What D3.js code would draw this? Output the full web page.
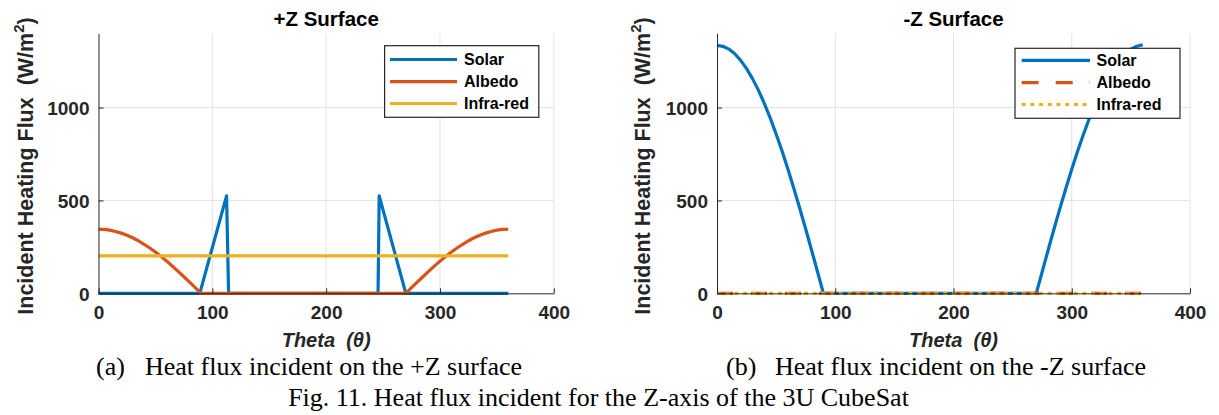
<!DOCTYPE html>
<html>
<head>
<meta charset="utf-8">
<script src="https://cdn.jsdelivr.net/npm/d3@7"></script>
<style>
  html, body { margin: 0; padding: 0; background: #fff; }
  svg { display: block; }
</style>
</head>
<body>
<svg id="chart" width="1219" height="415"></svg>
<script>
// ---------- DATA ----------
const xTicks = [0, 100, 200, 300, 400];
const yTicks = [0, 500, 1000];
const seriesNames = ["Solar", "Albedo", "Infra-red"];

// +Z surface
const solarPlusTheta = [0, 89, 112.5, 114.3, 245.6, 246.6, 270, 360];
const solarPlusVal   = [0, 0, 525, 0, 0, 525, 0, 0];
const albedoPlusTheta = [0, 5, 10, 15, 20, 25, 30, 35, 40, 45, 50, 55, 60, 65, 70, 75, 80, 85, 90,
                         270, 275, 280, 285, 290, 295, 300, 305, 310, 315, 320, 325, 330, 335, 340, 345, 350, 355, 360];
const albedoPlusVal   = [345, 344, 340, 333, 324, 313, 299, 283, 264, 244, 222, 198, 173, 146, 118, 89, 60, 30, 0,
                         0, 30, 60, 89, 118, 146, 173, 198, 222, 244, 264, 283, 299, 313, 324, 333, 340, 344, 345];
const irPlusTheta = [0, 360];
const irPlusVal   = [202, 202];

// -Z surface
const solarMinusTheta = [0, 5, 10, 15, 20, 25, 30, 35, 40, 45, 50, 55, 60, 65, 70, 75, 80, 85, 90,
                         270, 275, 280, 285, 290, 295, 300, 305, 310, 315, 320, 325, 330, 335, 340, 345, 350, 355, 360];
const solarMinusVal   = [1335, 1330, 1315, 1290, 1254, 1210, 1156, 1094, 1023, 944, 858, 766, 668, 564, 457, 346, 232, 116, 0,
                         0, 116, 232, 346, 457, 564, 668, 766, 858, 944, 1023, 1094, 1156, 1210, 1254, 1290, 1315, 1330, 1338];
const albedoMinusTheta = [0, 360];
const albedoMinusVal   = [0, 0];
const irMinusTheta = [0, 360];
const irMinusVal   = [0, 0];

// ---------- DRAW ----------
const svg = d3.select("#chart");
const FONT = "'Liberation Sans', Arial, Helvetica, sans-serif";
const SERIF = "'Liberation Serif', 'Times New Roman', Times, serif";
const colors = ["#0072BD", "#D95319", "#EDB120"];
const AX = "#262626";

function zip(t, v) { return t.map((d, i) => ({ x: d, y: v[i] })); }

function drawPanel(cfg) {
  const x = d3.scaleLinear().domain([0, 400]).range([cfg.x0, cfg.x1]);
  const y = d3.scaleLinear().domain([0, 1400]).range([293.3, 33.3]);
  const g = svg.append("g");

  // grid
  g.append("g").selectAll("line").data(xTicks.slice(1)).join("line")
    .attr("x1", d => x(d)).attr("x2", d => x(d))
    .attr("y1", y(1400)).attr("y2", y(0))
    .attr("stroke", "#e3e3e3").attr("stroke-width", 1);
  g.append("g").selectAll("line").data(yTicks.slice(1)).join("line")
    .attr("x1", x(0)).attr("x2", x(400))
    .attr("y1", d => y(d)).attr("y2", d => y(d))
    .attr("stroke", "#e3e3e3").attr("stroke-width", 1);

  // lines
  const lineGen = d3.line().x(d => x(d.x)).y(d => y(d.y));
  cfg.series.forEach((s, i) => {
    g.append("path")
      .datum(zip(s.t, s.v))
      .attr("fill", "none")
      .attr("stroke", colors[i])
      .attr("stroke-width", 3.2)
      .attr("stroke-linejoin", "round")
      .attr("stroke-dasharray", s.dash || null)
      .attr("d", lineGen);
  });

  // axes
  const fmt = d3.format("d");
  const xAxis = d3.axisBottom(x).tickValues(xTicks).tickFormat(fmt).tickSizeInner(-5).tickSizeOuter(0).tickPadding(12);
  const yAxis = d3.axisLeft(y).tickValues(yTicks).tickFormat(fmt).tickSizeInner(-5).tickSizeOuter(0).tickPadding(9);
  const gx = g.append("g").attr("transform", `translate(0,${y(0)})`).call(xAxis);
  const gy = g.append("g").attr("transform", `translate(${x(0)},0)`).call(yAxis);
  [gx, gy].forEach(a => {
    a.select(".domain").attr("stroke", AX).attr("stroke-width", 1);
    a.selectAll(".tick line").attr("stroke", AX);
    a.selectAll(".tick text").attr("fill", AX)
      .attr("font-family", FONT).attr("font-size", 19).attr("font-weight", "bold");
  });
  gy.selectAll(".tick text").attr("dy", "0.36em");

  // title
  const cx = (cfg.x0 + cfg.x1) / 2;
  g.append("text").attr("x", cx).attr("y", 26).attr("text-anchor", "middle")
    .attr("font-family", FONT).attr("font-size", 20.5).attr("font-weight", "bold")
    .attr("fill", "#000").text(cfg.title);

  // x label
  g.append("text").attr("x", cx).attr("y", 347).attr("text-anchor", "middle")
    .attr("font-family", FONT).attr("font-size", 20).attr("font-weight", "bold")
    .attr("font-style", "italic").attr("fill", AX)
    .attr("xml:space", "preserve").text("Theta  (\u03B8)");

  // y label
  const yl = g.append("text")
    .attr("transform", `translate(${cfg.ylabX},166) rotate(-90)`)
    .attr("text-anchor", "middle")
    .attr("font-family", FONT).attr("font-size", 21.5).attr("font-weight", "bold")
    .attr("fill", AX).attr("xml:space", "preserve");
  yl.append("tspan").text("Incident Heating Flux  (W/m");
  yl.append("tspan").attr("font-size", 15).attr("dy", -9).text("2");
  yl.append("tspan").attr("dy", 9).text(")");

  // legend
  const L = cfg.legend;
  const lg = g.append("g");
  lg.append("rect").attr("x", L.x0).attr("y", L.y0)
    .attr("width", L.x1 - L.x0).attr("height", L.y1 - L.y0)
    .attr("fill", "#fff").attr("stroke", AX).attr("stroke-width", 1.2);
  seriesNames.forEach((name, i) => {
    const yy = L.rows[i];
    lg.append("line").attr("x1", L.lx0).attr("x2", L.lx1).attr("y1", yy).attr("y2", yy)
      .attr("stroke", colors[i]).attr("stroke-width", 3.2)
      .attr("stroke-dasharray", (cfg.series[i].legendDash) || null);
    lg.append("text").attr("x", L.tx).attr("y", yy).attr("dy", "0.36em")
      .attr("font-family", FONT).attr("font-size", 16).attr("font-weight", "bold")
      .attr("fill", "#000").text(name);
  });
}

drawPanel({
  x0: 98.5, x1: 553.8, title: "+Z Surface", ylabX: 33,
  series: [
    { t: solarPlusTheta, v: solarPlusVal },
    { t: albedoPlusTheta, v: albedoPlusVal },
    { t: irPlusTheta, v: irPlusVal }
  ],
  legend: { x0: 384.6, x1: 538.8, y0: 45.7, y1: 117.3, lx0: 390, lx1: 457, tx: 464, rows: [59.5, 81.7, 103.5] }
});

drawPanel({
  x0: 717, x1: 1190, title: "-Z Surface", ylabX: 650,
  series: [
    { t: solarMinusTheta, v: solarMinusVal },
    { t: albedoMinusTheta, v: albedoMinusVal, dash: "16,18", legendDash: "17,17" },
    { t: irMinusTheta, v: irMinusVal, dash: "4,4.7", legendDash: "4,4.7" }
  ],
  legend: { x0: 1015, x1: 1180, y0: 48.3, y1: 118.3, lx0: 1021.7, lx1: 1090, tx: 1096.5, rows: [60.3, 82.7, 104.5] }
});

// captions
function caption(x, gap, label, text) {
  svg.append("text").attr("x", x).attr("y", 375)
    .attr("font-family", SERIF).attr("font-size", 26).attr("fill", "#000").text(label);
  svg.append("text").attr("x", x + gap).attr("y", 375)
    .attr("font-family", SERIF).attr("font-size", 26).attr("fill", "#000").text(text);
}
caption(96, 49, "(a)", "Heat flux incident on the +Z surface");
caption(726, 49, "(b)", "Heat flux incident on the -Z surface");
svg.append("text").attr("x", 598.5).attr("y", 406).attr("text-anchor", "middle")
  .attr("font-family", SERIF).attr("font-size", 26).attr("fill", "#000")
  .text("Fig. 11. Heat flux incident for the Z-axis of the 3U CubeSat");
</script>
</body>
</html>
